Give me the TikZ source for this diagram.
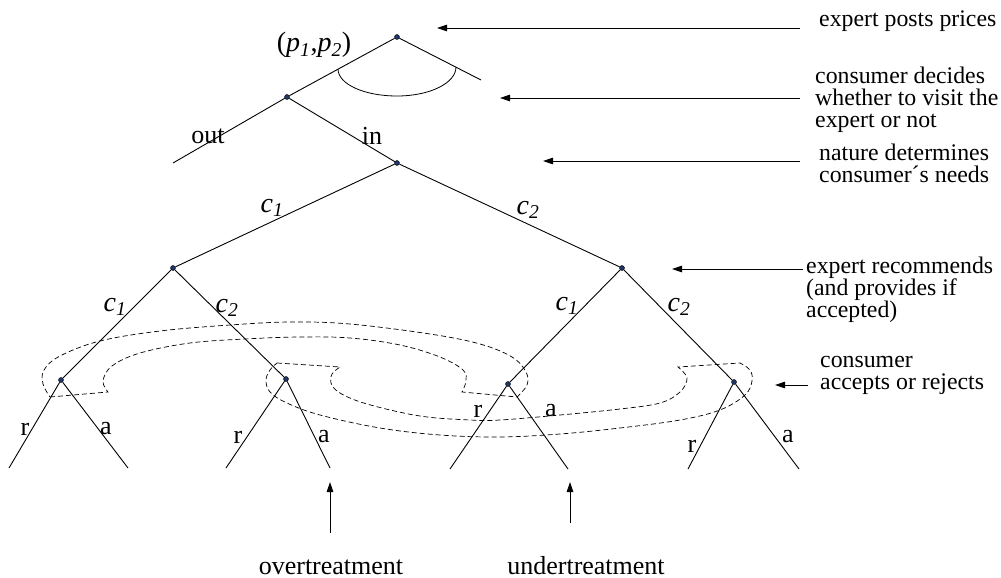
\documentclass[tikz,border=0pt]{standalone}
\usepackage{fontspec}
\setmainfont{Liberation Serif}
\usepackage{tikz}
\usetikzlibrary{arrows.meta}

\definecolor{dotblue}{RGB}{30,55,100}
\newcommand{\tchoice}[1]{\textit{c}\textsubscript{\textit{#1}}}
\newcommand{\tprice}[1]{\textit{p}\textsubscript{\textit{#1}}}

\begin{document}
\begin{tikzpicture}[
    x=1pt, y=-1pt,
    dec/.style={circle, draw=black, fill=dotblue, inner sep=0pt,
      minimum size=5pt, line width=0.4pt},
    br/.style={line width=0.9pt},
    lab/.style={inner sep=0pt, font=\fontsize{26}{26}\selectfont},
    clab/.style={inner sep=0pt, font=\fontsize{28}{28}\selectfont},
    nota/.style={inner sep=0pt, anchor=north west, align=left,
      font=\fontsize{23.8}{22}\selectfont, execute at begin node=\strut},
    bnota/.style={inner sep=0pt, anchor=base, font=\fontsize{26}{26}\selectfont},
    fl/.style={-{Triangle[length=10pt,width=6.5pt]}, line width=0.8pt},
    iset/.style={dashed, dash pattern=on 5pt off 3pt, line width=0.7pt}
  ]
    \useasboundingbox (0,0) rectangle (1001,578);

    % decision nodes
    \node[dec] (root) at (397,37)  {};
    \node[dec] (cons) at (287,97)  {};
    \node[dec] (nat)  at (397,163) {};
    \node[dec] (exA)  at (173,268) {};
    \node[dec] (exB)  at (622,268) {};
    \node[dec] (acA1) at (61,380)  {};
    \node[dec] (acA2) at (286,379) {};
    \node[dec] (acB1) at (508,384) {};
    \node[dec] (acB2) at (734,382) {};

    % end points
    \coordinate (rootR) at (481,80);
    \coordinate (outE)  at (173,163);
    \coordinate (lf1) at (9,468);
    \coordinate (lf2) at (128,468);
    \coordinate (lf3) at (226,468);
    \coordinate (lf4) at (330,468);
    \coordinate (lf5) at (450,469);
    \coordinate (lf6) at (568,469);
    \coordinate (lf7) at (688,469);
    \coordinate (lf8) at (799,469);

    \foreach \a/\b in {root/cons, root/rootR, cons/outE, cons/nat,
        nat/exA, nat/exB, exA/acA1, exA/acA2, exB/acB1, exB/acB2,
        acA1/lf1, acA1/lf2, acA2/lf3, acA2/lf4,
        acB1/lf5, acB1/lf6, acB2/lf7, acB2/lf8} {
      \draw[br] (\a) -- (\b);
    }

    % price arc
    \draw[line width=0.8pt] (338,69) .. controls (338,84) and (364,96) .. (397,96)
      .. controls (430,96) and (456,83) .. (456,67);

    % information sets
    \draw[iset] (50,397) -- (108,392)
      -- plot[smooth, tension=0.6] coordinates {(108,392) (103,381) (112,366)
        (140,353) (190,343) (245,339) (300,337) (350,338) (400,345) (440,357)
        (463,370) (466,381) (462,392)}
      -- (517,397)
      -- plot[smooth, tension=0.6] coordinates {(517,397) (527,385) (526,372)
        (512,357) (480,344) (430,334) (350,324) (290,322) (230,325) (160,331)
        (100,341) (60,356) (44,370) (43,384) (50,397)};
    \draw[iset] (277,363) -- (340,367)
      -- plot[smooth, tension=0.6] coordinates {(340,367) (332,374) (331,383)
        (340,393) (367,404) (420,416) (470,420) (500,420) (560,415) (620,409)
        (660,403) (680,392) (687,378) (678,367)}
      -- (740,363)
      -- plot[smooth, tension=0.6] coordinates {(740,363) (750,370) (752,381)
        (745,395) (720,410) (680,420) (620,428) (560,434) (500,437) (440,435)
        (380,428) (320,415) (287,403) (270,392) (266,380) (270,370) (277,363)};

    % branch labels
    \node[clab] (pp) at (314,45) {(\tprice{1},\tprice{2})};
    \node[lab] (lout) at (208,136) {out};
    \node[lab] (lin)  at (372,136) {in};
    \node[clab] (lc1) at (272,208) {\tchoice{1}};
    \node[clab] (lc2) at (528,210) {\tchoice{2}};
    \node[clab] (lc3) at (115,307) {\tchoice{1}};
    \node[clab] (lc4) at (227,308) {\tchoice{2}};
    \node[clab] (lc5) at (567,306) {\tchoice{1}};
    \node[clab] (lc6) at (679,307) {\tchoice{2}};
    \node[lab] (lr1) at (25,429)  {r};
    \node[lab] (la1) at (106,429) {a};
    \node[lab] (lr2) at (238,437) {r};
    \node[lab] (la2) at (324,437) {a};
    \node[lab] (lr3) at (478,411) {r};
    \node[lab] (la3) at (551,411) {a};
    \node[lab] (lr4) at (692,446) {r};
    \node[lab] (la4) at (788,437) {a};

    % stage notes
    \node[nota] (n1) at (819,11)  {expert posts prices};
    \node[nota] (n2) at (815,67)  {consumer decides\\whether to visit the\\expert or not};
    \node[nota] (n3) at (819,144) {nature determines\\consumer´s needs};
    \node[nota] (n4) at (806,257) {expert recommends\\(and provides if\\accepted)};
    \node[nota] (n5) at (820,356) {consumer\\accepts or rejects};

    \coordinate (t1) at (800,28);  \coordinate (h1) at (437,28);
    \coordinate (t2) at (800,98);  \coordinate (h2) at (500,98);
    \coordinate (t3) at (800,161); \coordinate (h3) at (543,161);
    \coordinate (t4) at (803,269); \coordinate (h4) at (672,269);
    \coordinate (t5) at (808,385); \coordinate (h5) at (775,385);
    \foreach \i in {1,...,5} {
      \draw[fl] (t\i) -- (h\i);
    }

    % outcomes
    \node[bnota] (ov) at (331,574) {overtreatment};
    \node[bnota] (un) at (586,574) {undertreatment};
    \coordinate (ovT) at (330,533); \coordinate (ovH) at (330,482);
    \coordinate (unT) at (570,523); \coordinate (unH) at (570,482);
    \draw[fl] (ovT) -- (ovH);
    \draw[fl] (unT) -- (unH);
  \end{tikzpicture}
\end{document}
